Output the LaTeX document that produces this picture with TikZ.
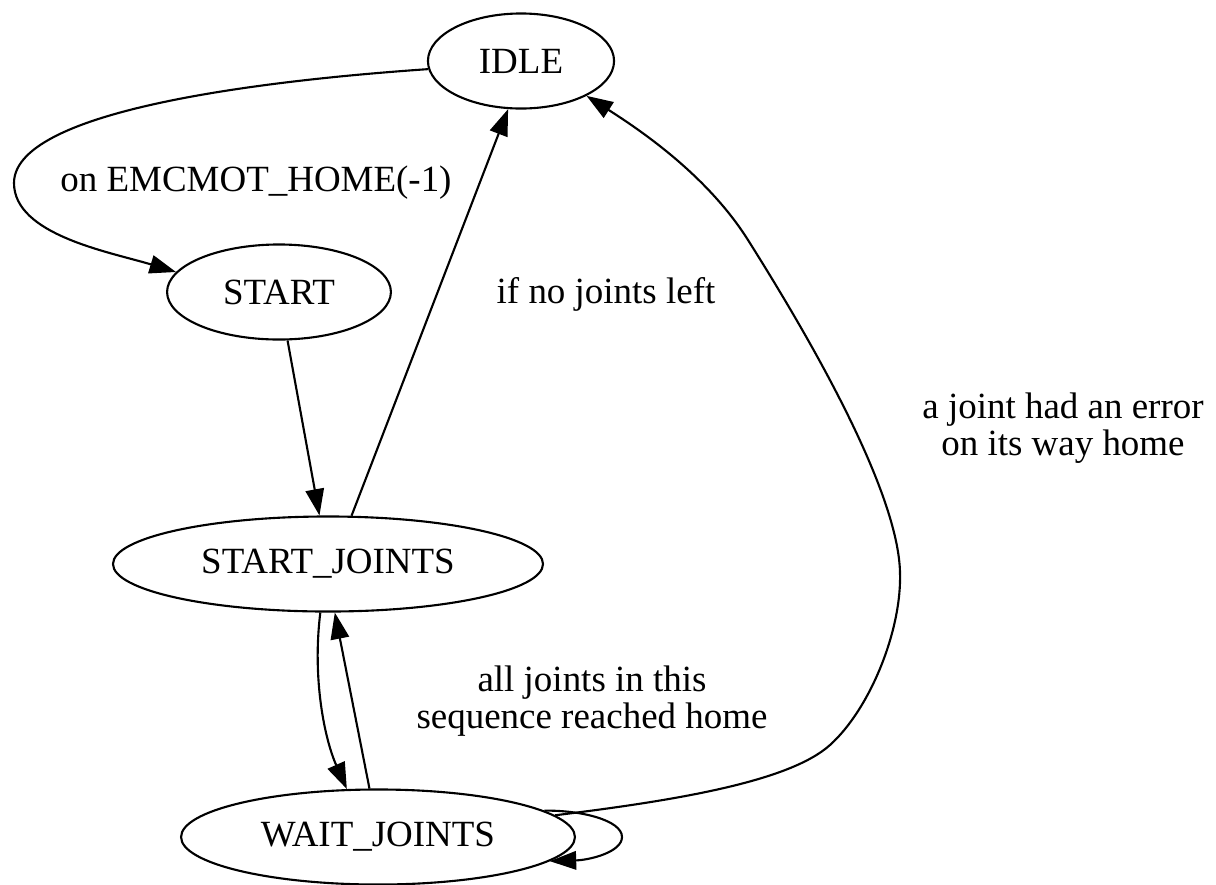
\documentclass[tikz,border=0pt]{standalone}
\usepackage{fontspec}
\setmainfont{Liberation Serif}
\usetikzlibrary{shapes.geometric, arrows.meta}

\begin{document}
\begin{tikzpicture}[x=0.3788pt, y=-0.3788pt,
    font=\fontsize{14pt}{14pt}\selectfont,
    statenode/.style={ellipse, draw, line width=0.8pt, inner sep=0pt, minimum height=36pt},
    edgelabel/.style={align=center, inner sep=0pt},
    >={Triangle[length=10pt, width=7pt]}]

    \useasboundingbox (0,0) rectangle (1216,884);

    % States
    \node (idle) [statenode, minimum width=70.5pt] at (521,61) {IDLE};
    \node (start) [statenode, minimum width=84.8pt] at (279,292) {START};
    \node (startjoints) [statenode, minimum width=162.9pt] at (328,564) {START\_JOINTS};
    \node (waitjoints) [statenode, minimum width=149.2pt] at (378,837) {WAIT\_JOINTS};

    % Transitions
    \draw[->, line width=0.8pt] (idle.185) .. controls (300,78) and (14,105) .. (14,183)
        .. controls (14,235) and (110,252) .. (start.169);
    \draw[->, line width=0.8pt] (start.-80) -- (startjoints.100);
    \draw[->, line width=0.8pt] (startjoints.64) -- (idle.-105);
    \draw[->, line width=0.8pt] (startjoints.-99) .. controls (312,680) and (325,740) .. (waitjoints.123);
    \draw[->, line width=0.8pt] (waitjoints.100) -- (startjoints.-82);
    \draw[->, line width=0.8pt] (waitjoints.7) .. controls (680,800) and (790,781) .. (830,745)
        .. controls (870,709) and (902,630) .. (900,572)
        .. controls (898,500) and (830,370) .. (748,240)
        .. controls (707,175) and (640,130) .. (idle.-28);
    \draw[->, line width=0.8pt] (waitjoints.9) .. controls (580,810) and (622,820) .. (622,837)
        .. controls (622,852) and (590,860) .. (waitjoints.-8);

    % Labels
    \node (lblhome) [edgelabel] at (256,183) {on EMCMOT\_HOME(-1)};
    \node (lblnojoints) [edgelabel] at (606,294) {if no joints left};
    \node (lblreached) [edgelabel] at (592,701) {all joints in this\\sequence reached home};
    \node (lblerror) [edgelabel] at (1063,428) {a joint had an error\\on its way home};

\end{tikzpicture}
\end{document}
